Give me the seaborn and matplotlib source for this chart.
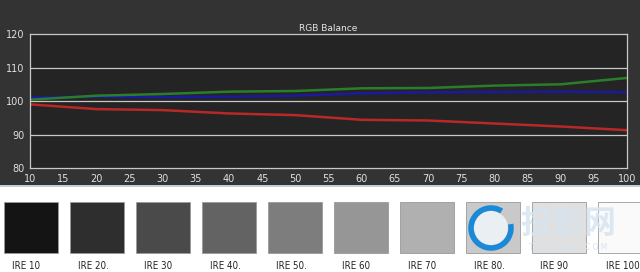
import matplotlib
matplotlib.use("Agg")
import matplotlib.pyplot as plt
import matplotlib.patches as mpatches
import seaborn as sns
import pandas as pd
import numpy as np

# ---- data ----
ire = [10, 20, 30, 40, 50, 60, 70, 80, 90, 100]
red = [99.0, 97.6, 97.3, 96.3, 95.8, 94.4, 94.2, 93.3, 92.4, 91.3]
green = [100.4, 101.6, 102.1, 102.8, 103.0, 103.8, 103.9, 104.6, 105.0, 106.9]
blue = [101.1, 101.3, 101.2, 101.3, 101.6, 102.3, 102.6, 102.7, 102.8, 102.6]
x_ticks = list(range(10, 101, 5))
y_ticks = [80, 90, 100, 110, 120]
swatch_labels = ["IRE 10", "IRE 20.", "IRE 30", "IRE 40.", "IRE 50.",
                 "IRE 60", "IRE 70", "IRE 80.", "IRE 90", "IRE 100"]
swatch_grays = [0.08, 0.18, 0.29, 0.39, 0.49, 0.59, 0.69, 0.79, 0.88, 0.98]

df = pd.DataFrame({
    "IRE": ire * 3,
    "value": red + green + blue,
    "channel": ["Red"] * len(ire) + ["Green"] * len(ire) + ["Blue"] * len(ire),
})

sns.set_style("dark")
plt.rcParams['font.family'] = ['DejaVu Sans', 'Noto Sans CJK SC']

fig = plt.figure(figsize=(6.4, 2.72), dpi=100)
fig.patch.set_facecolor("white")

# dark upper panel
bg = fig.add_axes([0, 0.32, 1, 0.68])
bg.set_facecolor("#333333")
bg.set_xticks([]); bg.set_yticks([])
for s in bg.spines.values():
    s.set_visible(False)
fig.add_artist(plt.Line2D([0, 1], [0.318, 0.318], color="#b8c4d0", lw=1.2,
                          transform=fig.transFigure))

ax = fig.add_axes([0.047, 0.382, 0.933, 0.493])
ax.set_facecolor("#242424")
sns.lineplot(data=df, x="IRE", y="value", hue="channel",
             palette={"Red": "#b82828", "Green": "#2a7e2a", "Blue": "#1a1a9e"},
             hue_order=["Blue", "Green", "Red"],
             linewidth=1.8, legend=False, ax=ax)
ax.set_xlim(10, 100)
ax.set_ylim(80, 120)
ax.set_xticks(x_ticks)
ax.set_yticks(y_ticks)
ax.set_xlabel("")
ax.set_ylabel("")
ax.grid(False)
for yv in [90, 100, 110]:
    ax.axhline(yv, color="#c8c8c8", lw=0.9, zorder=0.5)
for s in ax.spines.values():
    s.set_color("#c8c8c8")
    s.set_linewidth(0.9)
ax.tick_params(axis="both", colors="#e0e0e0", labelsize=7, length=3,
               width=0.8, pad=1, direction="out")
ax.set_title("RGB Balance", color="#e6e6e6", fontsize=6.5, pad=2)

# swatch strip
pitch = 66
for i, (lab, g) in enumerate(zip(swatch_labels, swatch_grays)):
    x0 = 4 + i * pitch
    w = min(54, 640 - x0)
    rect = mpatches.Rectangle((x0 / 640, 1 - 253 / 272), w / 640, 51 / 272,
                              transform=fig.transFigure,
                              facecolor=(g, g, g), edgecolor="#9a9a9a",
                              lw=0.6)
    fig.add_artist(rect)
    fig.text((x0 + 8) / 640, 1 - 266 / 272, lab, fontsize=7, color="#222222",
             va="center", ha="left", fontstretch="condensed")

# watermark
inner = mpatches.Ellipse((491 / 640, 1 - 228 / 272), 34 / 640, 34 / 272,
                         transform=fig.transFigure, facecolor="#eef4f8",
                         edgecolor="none", alpha=0.9)
fig.add_artist(inner)
circ = mpatches.Arc((491 / 640, 1 - 228 / 272), 40 / 640, 40 / 272,
                    theta1=75, theta2=385,
                    transform=fig.transFigure, color="#1a8ad8", lw=4)
fig.add_artist(circ)
fig.text(568 / 640, 1 - 224 / 272, "投影网", fontsize=23, color="#d6e4f0",
         alpha=0.85, ha="center", va="center",
         family=['Noto Sans CJK SC'], weight="bold")
fig.text(568 / 640, 1 - 247 / 272, "T O U Y I N G . C O M", fontsize=5.5,
         color="#d6e4f0", ha="center", va="center")

fig.savefig("out.png", dpi=100, facecolor=fig.get_facecolor())
